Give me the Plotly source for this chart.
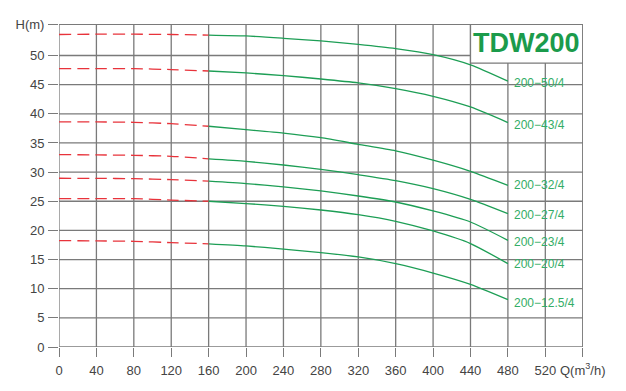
import plotly.graph_objects as go

# Flow values (m3/h)
q_red = [0, 40, 80, 120, 160]
q_green = [160, 200, 240, 280, 320, 360, 400, 440, 480]

# Head values (m) per model
names = ["200−50/4", "200−43/4", "200−32/4", "200−27/4", "200−23/4", "200−20/4", "200−12.5/4"]
h_red = [
    [53.6, 53.65, 53.65, 53.6, 53.5],
    [47.75, 47.75, 47.75, 47.58, 47.34],
    [38.6, 38.6, 38.54, 38.3, 37.86],
    [33.0, 32.95, 32.88, 32.71, 32.28],
    [28.94, 28.92, 28.88, 28.71, 28.45],
    [25.45, 25.45, 25.45, 25.2, 25.0],
    [18.25, 18.2, 18.13, 17.9, 17.7],
]
h_green = [
    [53.5, 53.35, 52.95, 52.5, 51.9, 51.18, 50.15, 48.4, 45.6],
    [47.34, 47.0, 46.55, 45.97, 45.3, 44.32, 43.0, 41.17, 38.5],
    [37.86, 37.29, 36.7, 35.9, 34.77, 33.65, 32.05, 30.14, 27.74],
    [32.28, 31.85, 31.22, 30.48, 29.55, 28.54, 27.17, 25.33, 22.88],
    [28.45, 28.03, 27.45, 26.77, 25.9, 24.87, 23.33, 21.44, 18.3],
    [25.0, 24.6, 24.13, 23.5, 22.7, 21.56, 19.9, 17.74, 14.3],
    [17.7, 17.33, 16.8, 16.19, 15.44, 14.3, 12.69, 10.75, 8.13],
]
label_y = [45.3, 38.15, 27.74, 22.6, 18.0, 14.2, 7.6]
label_x = 484

x_tickvals = list(range(0, 561, 40))
x_ticktext = [str(v) for v in range(0, 521, 40)] + ["Q(m<sup>3</sup>/h)"]
y_tickvals = list(range(0, 51, 5)) + [55.35]
y_ticktext = [str(v) for v in range(0, 51, 5)] + ["H(m)"]

title_text = "TDW200"

GRID = "#7a7a7a"
GREEN = "#1d9e55"
RED = "#e8333b"
LABEL = "#33ad66"
FONT = "Liberation Sans, Arial, sans-serif"
X_MAX = 560
Y_MAX = 55.35

fig = go.Figure()

# grid lines (drawn from the tick values)
for xv in x_tickvals:
    fig.add_shape(type="line", x0=xv, x1=xv, y0=0, y1=Y_MAX, xref="x", yref="y",
                  line=dict(color=GRID, width=1.3), layer="below")
for yv in y_tickvals:
    fig.add_shape(type="line", x0=0, x1=X_MAX, y0=yv, y1=yv, xref="x", yref="y",
                  line=dict(color=GRID, width=1.3), layer="below")

for i in range(len(names)):
    fig.add_trace(go.Scatter(x=q_red, y=h_red[i], mode="lines",
                             line=dict(color=RED, width=1.3, dash="12px,6px",
                                       shape="spline", smoothing=0.5),
                             showlegend=False, hoverinfo="skip"))
    fig.add_trace(go.Scatter(x=q_green, y=h_green[i], mode="lines",
                             line=dict(color=GREEN, width=1.3, shape="spline", smoothing=0.6),
                             showlegend=False, hoverinfo="skip"))
    fig.add_annotation(x=label_x, y=label_y[i], text=names[i], showarrow=False,
                       xanchor="left", yanchor="middle",
                       font=dict(family=FONT, size=12, color=LABEL))

fig.add_shape(type="rect", x0=440, x1=X_MAX, y0=48.7, y1=Y_MAX, xref="x", yref="y",
              fillcolor="white", line=dict(color=GRID, width=1.3), layer="above")
fig.add_annotation(x=500, y=52.1, text=title_text, showarrow=False,
                   xanchor="center", yanchor="middle",
                   font=dict(family=FONT, size=27, color="#1b9b4b", weight="bold"))

fig.update_xaxes(range=[0, 560.3], tickmode="array", tickvals=x_tickvals, ticktext=x_ticktext,
                 showgrid=False, zeroline=False, automargin=False,
                 ticks="outside", ticklen=9, tickcolor=GRID, tickwidth=1.3,
                 tickfont=dict(family=FONT, size=13, color="#444444"),
                 showline=False, ticklabelstandoff=2)
fig.update_yaxes(range=[0, 55.4], tickmode="array", tickvals=y_tickvals, ticktext=y_ticktext,
                 showgrid=False, zeroline=False, automargin=False,
                 ticks="outside", ticklen=10, tickcolor=GRID, tickwidth=1.3,
                 tickfont=dict(family=FONT, size=13, color="#444444"),
                 showline=False, ticklabelstandoff=1)

fig.update_layout(width=626, height=391, margin=dict(l=51, r=51, t=16, b=52),
                  plot_bgcolor="white", paper_bgcolor="white",
                  font=dict(family=FONT), template="none")

fig.write_html("out.html")
